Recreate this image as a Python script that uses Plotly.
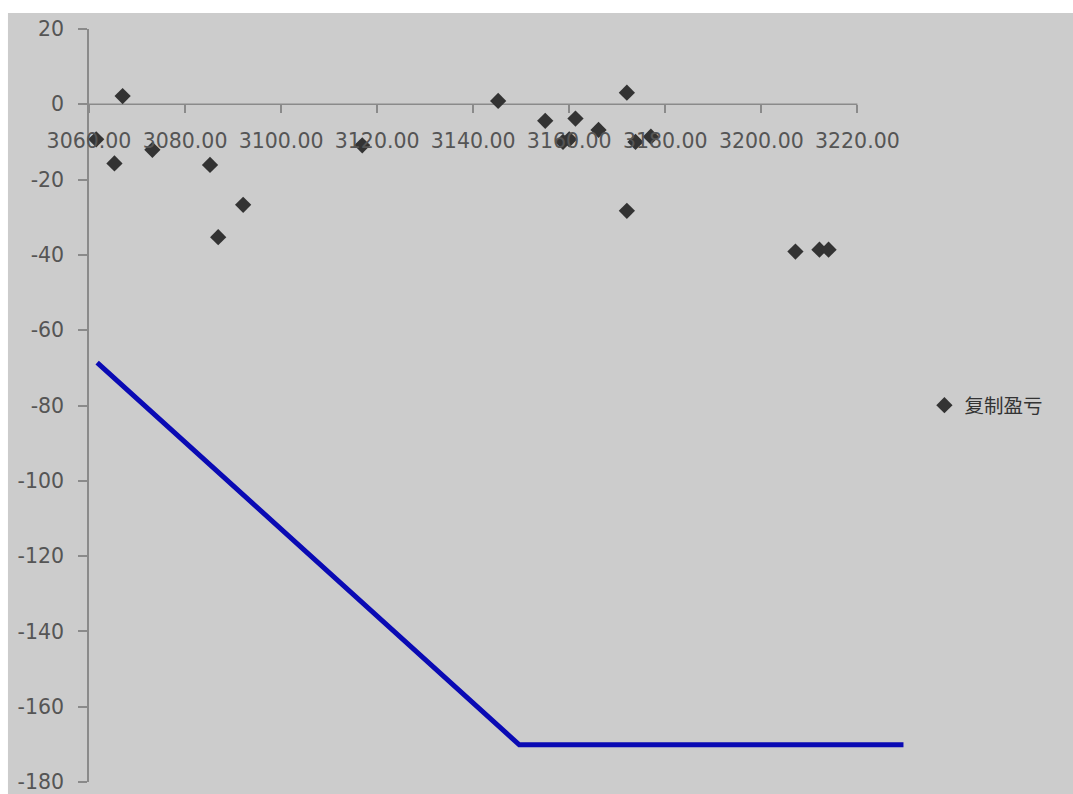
import plotly.graph_objects as go

# Scatter series: 复制盈亏
x_pts = [3061.5, 3065.3, 3067.0, 3073.2, 3085.2, 3086.9, 3092.1, 3116.9, 3145.2,
         3155.0, 3158.7, 3160.0, 3161.3, 3166.1, 3172.0, 3172.0, 3173.8, 3177.0,
         3207.1, 3212.1, 3214.0]
y_pts = [-9.3, -15.7, 2.2, -12.1, -16.1, -35.3, -26.7, -10.9, 0.9,
         -4.4, -10.0, -9.3, -3.8, -6.8, 3.1, -28.3, -10.0, -8.6,
         -39.1, -38.6, -38.6]

# Blue payoff line
line_x = [3061.7, 3149.6, 3229.6]
line_y = [-68.6, -170.1, -170.1]

x_ticks = [3060, 3080, 3100, 3120, 3140, 3160, 3180, 3200, 3220]
y_ticks = [20, 0, -20, -40, -60, -80, -100, -120, -140, -160, -180]
y_labels = [str(v) for v in y_ticks]

GREY = "#cccccc"
TXT = "#555555"
AX = "#8a8a8a"

fig = go.Figure()
fig.add_trace(go.Scatter(
    x=line_x, y=line_y, mode="lines",
    line=dict(color="#0a0ab4", width=5),
    showlegend=False, hoverinfo="skip",
))
fig.add_trace(go.Scatter(
    x=x_pts, y=y_pts, mode="markers", name="复制盈亏",
    marker=dict(symbol="diamond", size=12.5, color="#333333"),
    cliponaxis=False,
))

W, H = 1073, 794
ml, mr, mt, mb = 89, 158.4, 29, 12
pw, ph = W - ml - mr, H - mt - mb


def px_x(p):
    return (p - ml) / pw


def px_y(p):
    return (H - mb - p) / ph


fig.update_layout(
    width=W, height=H,
    margin=dict(l=ml, r=mr, t=mt, b=mb, autoexpand=False),
    paper_bgcolor=GREY, plot_bgcolor=GREY,
    font=dict(family="DejaVu Sans", size=20.5, color=TXT),
    xaxis=dict(
        range=[3060, 3232], anchor="free", position=0.9,
        tickvals=x_ticks, tickformat=".2f",
        showline=False, showgrid=False, zeroline=False,
        ticks="outside", ticklen=8, tickcolor=AX, tickwidth=1.5,
        ticklabelstandoff=10, automargin=False, ticklabeloverflow="allow",
    ),
    yaxis=dict(
        range=[-180, 20], tickvals=y_ticks, ticktext=y_labels,
        showline=True, linecolor=AX, linewidth=1.5,
        showgrid=False, zeroline=False,
        ticks="outside", ticklen=9, tickcolor=AX, tickwidth=1.5,
        ticklabelstandoff=10, automargin=False, ticklabeloverflow="allow",
    ),
    legend=dict(
        x=px_x(924), y=0.5, xanchor="left", yanchor="middle",
        bgcolor="rgba(0,0,0,0)",
        font=dict(family="Noto Sans CJK SC, DejaVu Sans", size=19.5, color="#333333"),
        itemwidth=30,
    ),
    shapes=[
        # x axis line crossing at y=0, spanning the tick range
        dict(type="line", xref="x", yref="y", x0=x_ticks[0], x1=x_ticks[-1],
             y0=0, y1=0, line=dict(color=AX, width=1.5), layer="below"),
        # white frame strips (top and left)
        dict(type="rect", xref="paper", yref="paper",
             x0=px_x(0), x1=px_x(W), y0=px_y(13), y1=px_y(0),
             fillcolor="white", line=dict(width=0)),
        dict(type="rect", xref="paper", yref="paper",
             x0=px_x(0), x1=px_x(8), y0=px_y(H), y1=px_y(0),
             fillcolor="white", line=dict(width=0)),
    ],
)

fig.write_html(
    "out.html",
    config={"displayModeBar": False},
    post_script="document.body.style.margin='0';document.body.style.overflow='hidden';",
)
